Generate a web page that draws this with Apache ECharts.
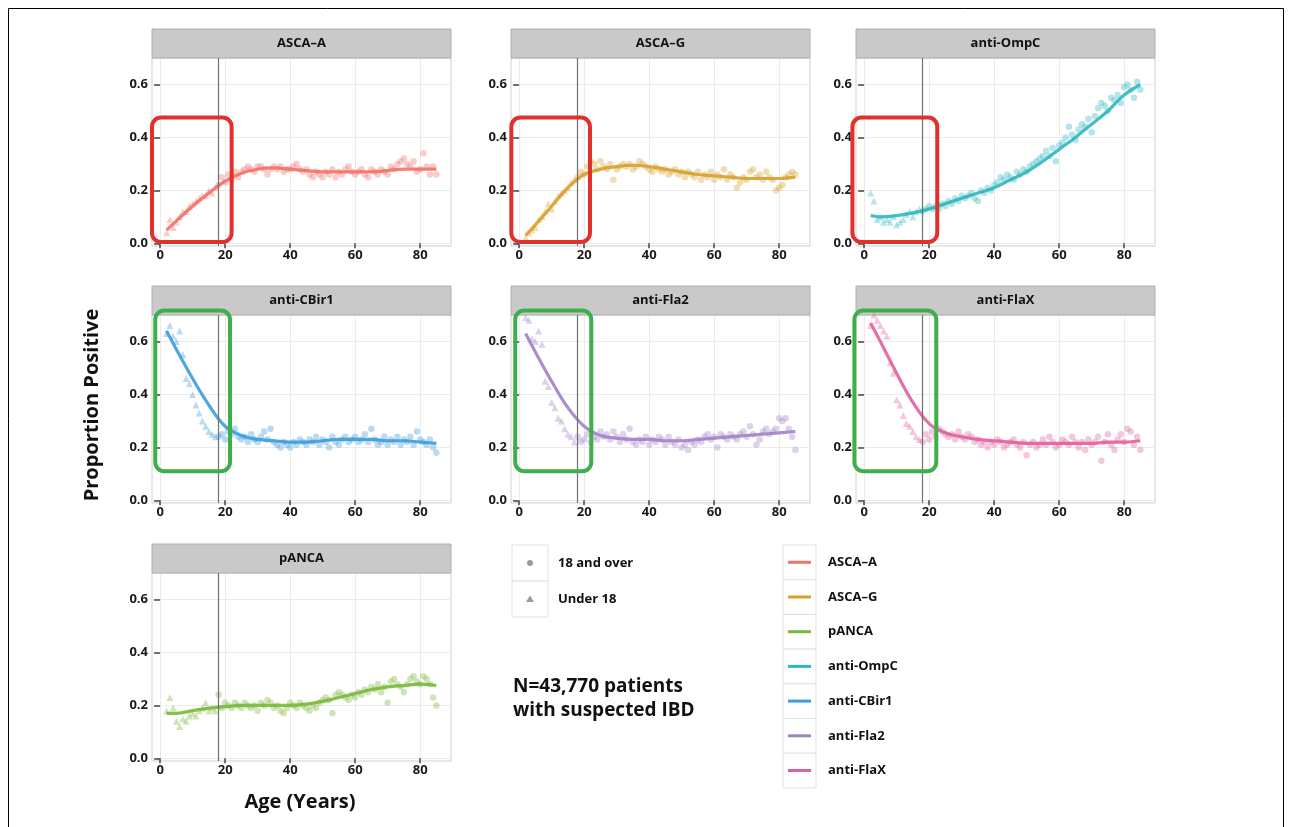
<!DOCTYPE html>
<html><head><meta charset="utf-8">
<script src="https://cdn.jsdelivr.net/npm/echarts@6/dist/echarts.min.js"></script>
<style>html,body{margin:0;padding:0;background:#fff}#c{width:1290px;height:827px}</style>
</head><body><div id="c"></div>
<script>
// ---------------- DATA ----------------
const panelNames = ['ASCA–A', 'ASCA–G', 'anti-OmpC', 'anti-CBir1', 'anti-Fla2', 'anti-FlaX', 'pANCA'];
const legendNames = ['ASCA–A', 'ASCA–G', 'pANCA', 'anti-OmpC', 'anti-CBir1', 'anti-Fla2', 'anti-FlaX'];
const shapeNames = ['18 and over', 'Under 18'];
const xTicks = [0, 20, 40, 60, 80];
const yTicks = [0, 0.2, 0.4, 0.6];
const cutoffAge = 18;

const ages = [2,3,4,5,6,7,8,9,10,11,12,13,14,15,16,17,
  18,19,20,21,22,23,24,25,26,27,28,29,30,31,32,33,34,35,36,37,38,39,40,41,42,43,44,45,46,47,
  48,49,50,51,52,53,54,55,56,57,58,59,60,61,62,63,64,65,66,67,68,69,70,71,72,73,74,75,76,77,
  78,79,80,81,82,83,84,85];
const smoothAges = [2,5,10,15,20,25,30,35,40,45,50,55,60,65,70,75,80,85];

const ascaA = [0.04,0.09,0.06,0.08,0.10,0.12,0.12,0.14,0.15,0.16,0.17,0.18,0.18,0.20,0.19,0.21,
  0.22,0.25,0.23,0.26,0.24,0.27,0.25,0.27,0.28,0.29,
  0.28,0.27,0.29,0.29,0.28,0.26,0.28,0.29,0.28,0.29,
  0.27,0.28,0.28,0.29,0.30,0.28,0.27,0.28,0.26,0.25,
  0.27,0.26,0.25,0.27,0.26,0.28,0.25,0.27,0.26,0.28,
  0.29,0.27,0.26,0.27,0.28,0.26,0.25,0.28,0.27,0.26,
  0.28,0.27,0.26,0.29,0.28,0.30,0.31,0.32,0.30,0.29,
  0.31,0.27,0.28,0.34,0.29,0.26,0.29,0.26];
const ascaASmooth = [0.05,0.085,0.14,0.19,0.235,0.265,0.28,0.285,0.28,0.275,0.27,0.27,0.27,0.27,0.275,0.28,0.28,0.28];

const ascaG = [0.02,0.04,0.05,0.06,0.09,0.10,0.12,0.15,0.13,0.16,0.18,0.19,0.20,0.21,0.23,0.24,
  0.25,0.27,0.26,0.29,0.31,0.30,0.28,0.31,0.29,0.28,
  0.30,0.24,0.28,0.29,0.30,0.29,0.30,0.28,0.29,0.31,
  0.30,0.29,0.28,0.27,0.29,0.28,0.27,0.28,0.26,0.27,
  0.28,0.26,0.27,0.25,0.27,0.26,0.25,0.27,0.24,0.26,
  0.25,0.27,0.24,0.26,0.25,0.28,0.24,0.26,0.25,0.21,
  0.23,0.25,0.24,0.27,0.28,0.25,0.26,0.24,0.27,0.25,
  0.24,0.20,0.21,0.22,0.25,0.26,0.27,0.26];
const ascaGSmooth = [0.03,0.07,0.14,0.21,0.26,0.28,0.29,0.295,0.29,0.28,0.27,0.26,0.255,0.25,0.245,0.245,0.245,0.25];

const ompC = [0.19,0.16,0.09,0.10,0.08,0.09,0.08,0.10,0.07,0.08,0.09,0.11,0.12,0.10,0.12,0.13,
  0.12,0.13,0.14,0.13,0.14,0.13,0.15,0.14,0.16,0.15,
  0.17,0.16,0.18,0.17,0.18,0.19,0.17,0.16,0.20,0.19,
  0.21,0.20,0.22,0.23,0.25,0.24,0.26,0.25,0.24,0.27,
  0.26,0.28,0.27,0.29,0.30,0.31,0.32,0.33,0.35,0.33,
  0.36,0.31,0.37,0.38,0.40,0.44,0.41,0.39,0.43,0.45,
  0.44,0.47,0.42,0.48,0.51,0.53,0.52,0.50,0.55,0.54,
  0.56,0.53,0.59,0.60,0.58,0.55,0.61,0.58];
const ompCSmooth = [0.105,0.10,0.105,0.115,0.13,0.15,0.17,0.19,0.21,0.24,0.27,0.31,0.355,0.40,0.45,0.50,0.56,0.60];

const cbir1 = [0.63,0.66,0.62,0.60,0.64,0.55,0.46,0.44,0.40,0.36,0.33,0.30,0.28,0.26,0.25,0.24,
  0.24,0.25,0.23,0.26,0.25,0.27,0.24,0.23,0.24,0.22,
  0.25,0.23,0.22,0.24,0.26,0.23,0.27,0.22,0.21,0.20,
  0.22,0.21,0.20,0.22,0.21,0.23,0.22,0.21,0.23,0.22,
  0.24,0.21,0.23,0.22,0.20,0.24,0.22,0.21,0.23,0.24,
  0.22,0.23,0.24,0.22,0.23,0.25,0.22,0.27,0.23,0.21,
  0.22,0.24,0.21,0.23,0.22,0.24,0.21,0.23,0.22,0.24,
  0.21,0.26,0.23,0.22,0.21,0.23,0.20,0.18];
const cbir1Smooth = [0.64,0.57,0.46,0.36,0.28,0.245,0.23,0.225,0.22,0.22,0.225,0.23,0.23,0.23,0.225,0.225,0.22,0.215];

const fla2 = [0.69,0.68,0.61,0.60,0.64,0.59,0.45,0.43,0.37,0.35,0.31,0.30,0.27,0.25,0.24,0.22,
  0.24,0.22,0.23,0.25,0.22,0.24,0.23,0.26,0.24,0.25,
  0.23,0.26,0.24,0.22,0.25,0.23,0.27,0.22,0.21,0.23,
  0.22,0.24,0.21,0.23,0.22,0.24,0.23,0.21,0.24,0.22,
  0.21,0.23,0.20,0.21,0.19,0.22,0.21,0.23,0.22,0.24,
  0.25,0.23,0.24,0.20,0.25,0.24,0.23,0.25,0.24,0.23,
  0.25,0.26,0.24,0.28,0.25,0.21,0.23,0.26,0.27,0.25,
  0.26,0.27,0.31,0.30,0.31,0.27,0.24,0.19];
const fla2Smooth = [0.63,0.56,0.45,0.35,0.28,0.245,0.235,0.23,0.23,0.225,0.225,0.23,0.235,0.24,0.245,0.25,0.255,0.26];

const flaX = [0.66,0.70,0.68,0.66,0.64,0.62,0.52,0.48,0.38,0.36,0.32,0.29,0.28,0.26,0.24,0.23,
  0.22,0.25,0.23,0.26,0.24,0.27,0.26,0.25,0.24,0.25,
  0.23,0.26,0.24,0.23,0.25,0.24,0.22,0.23,0.21,0.22,
  0.20,0.22,0.21,0.23,0.22,0.20,0.21,0.22,0.23,0.21,
  0.20,0.22,0.17,0.21,0.22,0.20,0.21,0.23,0.21,0.24,
  0.22,0.20,0.21,0.23,0.22,0.21,0.24,0.22,0.20,0.22,
  0.19,0.23,0.21,0.22,0.24,0.15,0.22,0.25,0.21,0.19,
  0.23,0.25,0.22,0.27,0.26,0.21,0.24,0.19];
const flaXSmooth = [0.67,0.60,0.48,0.37,0.29,0.255,0.24,0.23,0.225,0.22,0.215,0.215,0.215,0.215,0.215,0.22,0.22,0.225];

const pANCA = [0.18,0.23,0.19,0.14,0.12,0.15,0.14,0.16,0.17,0.16,0.18,0.19,0.21,0.18,0.19,0.18,
  0.24,0.19,0.21,0.20,0.19,0.21,0.20,0.19,0.21,0.20,
  0.19,0.20,0.18,0.21,0.20,0.22,0.21,0.19,0.20,0.18,
  0.17,0.19,0.21,0.20,0.19,0.21,0.20,0.19,0.18,0.20,
  0.19,0.21,0.22,0.23,0.22,0.17,0.24,0.25,0.24,0.23,
  0.22,0.24,0.23,0.25,0.24,0.26,0.25,0.27,0.26,0.28,
  0.25,0.27,0.21,0.29,0.30,0.28,0.27,0.25,0.28,0.30,
  0.31,0.29,0.28,0.31,0.30,0.28,0.23,0.20];
const pANCASmooth = [0.17,0.17,0.18,0.19,0.195,0.20,0.20,0.20,0.20,0.205,0.215,0.23,0.245,0.26,0.27,0.275,0.28,0.275];

// highlight boxes [xFrom, xTo, yFrom, yTo] in data units
const boxASCAA = [-2.5, 22, 0.005, 0.475];
const boxASCAG = [-2.4, 21.8, 0.005, 0.475];
const boxOmpC = [-3.6, 22.5, 0.005, 0.475];
const boxCBir1 = [-1.5, 21.5, 0.11, 0.717];
const boxFla2 = [-1.2, 22.2, 0.11, 0.717];
const boxFlaX = [-3.0, 22.2, 0.11, 0.717];

// ---------------- STYLE / LAYOUT ----------------
const FONT = '"Open Sans", "Noto Sans", sans-serif';
const colorOf = {
  'ASCA–A': '#f07268', 'ASCA–G': '#d6a12c', 'pANCA': '#7ab83a', 'anti-OmpC': '#2fb7bf',
  'anti-CBir1': '#3b9cdb', 'anti-Fla2': '#a281c6', 'anti-FlaX': '#e0609e'
};
const panelPoints = [ascaA, ascaG, ompC, cbir1, fla2, flaX, pANCA];
const panelSmooth = [ascaASmooth, ascaGSmooth, ompCSmooth, cbir1Smooth, fla2Smooth, flaXSmooth, pANCASmooth];
const panelBox = [[boxASCAA, '#e2302c'], [boxASCAG, '#e2302c'], [boxOmpC, '#e2302c'],
  [boxCBir1, '#3daf4b'], [boxFla2, '#3daf4b'], [boxFlaX, '#3daf4b'], null];
const colLeft = [152, 511, 856];
const rowTop = [58, 315, 573];
const PW = 299, PH = 188, STRIP = 29;

function hexA(hex, a) {
  const n = parseInt(hex.slice(1), 16);
  return `rgba(${(n >> 16) & 255},${(n >> 8) & 255},${n & 255},${a})`;
}

const grids = [], xAxes = [], yAxes = [], series = [], graphics = [];
panelNames.forEach((name, i) => {
  const r = Math.floor(i / 3), c = i % 3;
  const left = colLeft[c], top = rowTop[r];
  const col = colorOf[name];
  grids.push({ left, top, width: PW, height: PH, show: true, backgroundColor: '#fff', borderColor: '#cfcfcf', borderWidth: 1 });
  xAxes.push({
    type: 'value', gridIndex: i, min: -2.5, max: 89.5,
    axisLine: { show: false },
    axisTick: { show: true, length: 5, lineStyle: { color: '#444', width: 1.5 }, customValues: xTicks },
    axisLabel: { customValues: xTicks, margin: 3, color: '#1a1a1a', fontFamily: FONT, fontWeight: 'bold', fontSize: 13 },
    splitLine: { show: true, lineStyle: { color: '#ebebeb', width: 1 } }
  });
  yAxes.push({
    type: 'value', gridIndex: i, min: -0.01, max: 0.70,
    axisLine: { show: false },
    axisTick: { show: true, length: 6, lineStyle: { color: '#444', width: 1.5 }, customValues: yTicks },
    axisLabel: { customValues: yTicks, margin: 4, color: '#1a1a1a', fontFamily: FONT, fontWeight: 'bold', fontSize: 13,
      formatter: v => v.toFixed(1) },
    splitLine: { show: true, lineStyle: { color: '#ebebeb', width: 1 } }
  });
  const pts = panelPoints[i];
  const under = [], over = [];
  ages.forEach((a, k) => { (a < cutoffAge ? under : over).push([a, pts[k]]); });
  series.push({
    type: 'scatter', name: 'Under 18', xAxisIndex: i, yAxisIndex: i, data: under,
    symbol: 'triangle', symbolSize: 7, itemStyle: { color: hexA(col, 0.45) }, z: 3, silent: true
  });
  series.push({
    type: 'scatter', name: '18 and over', xAxisIndex: i, yAxisIndex: i, data: over,
    symbol: 'circle', symbolSize: 6.5, itemStyle: { color: hexA(col, 0.45) }, z: 3, silent: true
  });
  series.push({
    type: 'line', name: name, xAxisIndex: i, yAxisIndex: i,
    data: smoothAges.map((a, k) => [a, panelSmooth[i][k]]),
    smooth: 0.4, showSymbol: false, lineStyle: { color: hexA(col, 0.9), width: 3.2 }, z: 4, silent: true,
    markLine: {
      silent: true, symbol: 'none', label: { show: false },
      lineStyle: { color: '#707070', width: 1.2, type: 'solid' },
      data: [{ xAxis: cutoffAge }]
    }
  });
  if (panelBox[i]) {
    const [b, bc] = panelBox[i];
    series.push({
      type: 'custom', xAxisIndex: i, yAxisIndex: i, data: [b], clip: false, z: 10, silent: true,
      renderItem: (params, api) => {
        const p0 = api.coord([api.value(0), api.value(3)]);
        const p1 = api.coord([api.value(1), api.value(2)]);
        return { type: 'rect', shape: { x: p0[0], y: p0[1], width: p1[0] - p0[0], height: p1[1] - p0[1], r: 9 },
          style: { fill: 'none', stroke: bc, lineWidth: 4 } };
      }
    });
  }
  // strip
  graphics.push({ type: 'rect', z: 1, shape: { x: left, y: top - STRIP, width: PW, height: STRIP },
    style: { fill: '#c9c9c9', stroke: '#b0b0b0', lineWidth: 1 } });
  graphics.push({ type: 'text', z: 2, x: left + PW / 2, y: top - STRIP / 2,
    style: { text: name, fill: '#111', font: `bold 13px ${FONT}`, textAlign: 'center', textVerticalAlign: 'middle' } });
});

// outer frame
graphics.push({ type: 'rect', z: 0, shape: { x: 8.5, y: 8.5, width: 1275, height: 840 },
  style: { fill: 'none', stroke: '#000', lineWidth: 1 } });
// axis titles
graphics.push({ type: 'text', x: 92, y: 405, rotation: Math.PI / 2,
  style: { text: 'Proportion Positive', fill: '#111', font: `bold 20px ${FONT}`, textAlign: 'center', textVerticalAlign: 'middle' } });
graphics.push({ type: 'text', x: 300, y: 802,
  style: { text: 'Age (Years)', fill: '#111', font: `bold 20px ${FONT}`, textAlign: 'center', textVerticalAlign: 'middle' } });
// N annotation
graphics.push({ type: 'text', x: 513, y: 687,
  style: { text: 'N=43,770 patients', fill: '#111', font: `bold 19px ${FONT}`, textAlign: 'left', textVerticalAlign: 'middle' } });
graphics.push({ type: 'text', x: 513, y: 711,
  style: { text: 'with suspected IBD', fill: '#111', font: `bold 19px ${FONT}`, textAlign: 'left', textVerticalAlign: 'middle' } });

// shape legend
shapeNames.forEach((s, k) => {
  const y0 = 545 + k * 36;
  graphics.push({ type: 'rect', shape: { x: 512, y: y0, width: 36, height: 36 }, style: { fill: '#fff', stroke: '#e0e0e0', lineWidth: 1 } });
  if (k === 0) graphics.push({ type: 'circle', shape: { cx: 530, cy: y0 + 18, r: 3 }, style: { fill: '#9a9a9a' } });
  else graphics.push({ type: 'polygon', shape: { points: [[530, y0 + 14.5], [534, y0 + 21], [526, y0 + 21]] }, style: { fill: '#9a9a9a' } });
  graphics.push({ type: 'text', x: 558, y: y0 + 18,
    style: { text: s, fill: '#111', font: `bold 13px ${FONT}`, textVerticalAlign: 'middle' } });
});
// colour legend
legendNames.forEach((s, k) => {
  const y0 = 545 + k * 34.7;
  graphics.push({ type: 'rect', shape: { x: 783, y: y0, width: 33, height: 34.7 }, style: { fill: '#fff', stroke: '#e0e0e0', lineWidth: 1 } });
  graphics.push({ type: 'line', shape: { x1: 788, y1: y0 + 17.3, x2: 811, y2: y0 + 17.3 }, style: { stroke: colorOf[s], lineWidth: 3 } });
  graphics.push({ type: 'text', x: 828, y: y0 + 17.3,
    style: { text: s, fill: '#111', font: `bold 13px ${FONT}`, textVerticalAlign: 'middle' } });
});

const chart = echarts.init(document.getElementById('c'), null, { renderer: 'canvas' });
chart.setOption({
  animation: false,
  backgroundColor: '#fff',
  grid: grids, xAxis: xAxes, yAxis: yAxes, series,
  graphic: { elements: graphics }
});
</script>
</body></html>
